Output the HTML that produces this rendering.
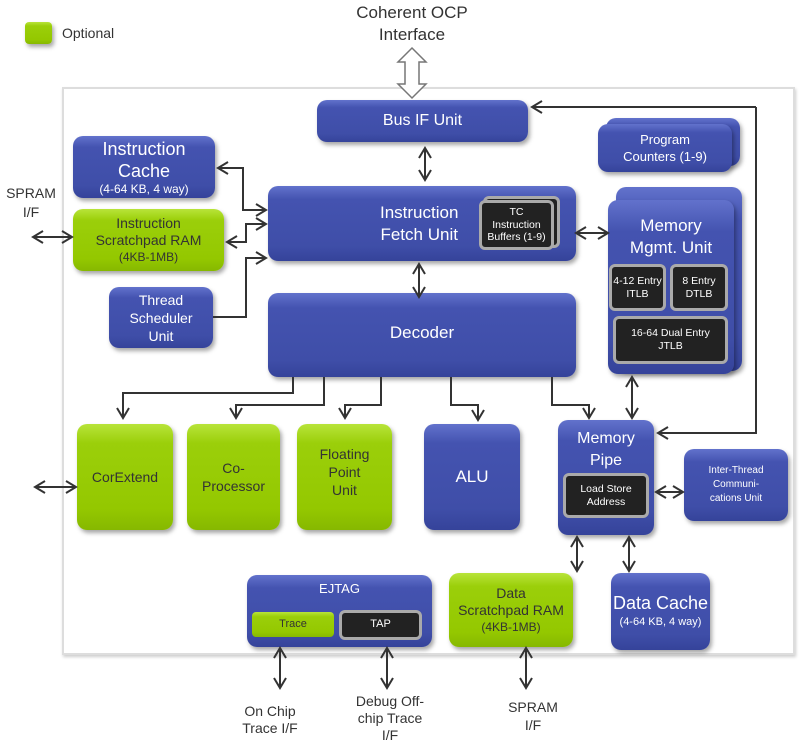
<!DOCTYPE html>
<html><head><meta charset="utf-8"><style>
body{margin:0;width:800px;height:736px;background:#fff;position:relative;overflow:hidden;font-family:"Liberation Sans",sans-serif}
.b{position:absolute;box-sizing:border-box;border-radius:10px;background:linear-gradient(#6272cc 0%,#4453b0 18%,#3f4ea8 80%,#35439a 100%);color:#fff;text-align:center;display:flex;flex-direction:column;justify-content:center;align-items:center;box-shadow:2px 3px 4px rgba(0,0,0,.35);line-height:1.15}
.g{background:linear-gradient(#b8e43a 0%,#9bcf0a 18%,#94c800 80%,#86b800 100%);color:#333}
.k{position:absolute;box-sizing:border-box;border-radius:6px;background:#222;border:3px solid #aaa;color:#fff;text-align:center;display:flex;flex-direction:column;justify-content:center;align-items:center;line-height:1.2}
.t{position:absolute;color:#333;text-align:center;line-height:1.2}
</style></head><body>
<div style="position:absolute;left:62px;top:87px;width:733px;height:568px;border:2px solid #ddd;box-sizing:border-box;box-shadow:1px 2px 3px rgba(0,0,0,.2)"></div>
<div class="b g" style="left:25px;top:22px;width:27px;height:22px;border-radius:4px"></div>
<div class="t" style="left:62px;top:25px;font-size:14px">Optional</div>
<div class="t" style="left:340px;top:2px;width:144px;font-size:17px;line-height:22px">Coherent OCP<br>Interface</div>
<div class="t" style="left:0px;top:184px;width:62px;font-size:14px;line-height:19px">SPRAM<br>I/F</div>
<div class="t" style="left:225px;top:703px;width:90px;font-size:14px;line-height:17px">On Chip<br>Trace I/F</div>
<div class="t" style="left:345px;top:693px;width:90px;font-size:14px;line-height:17px">Debug Off-<br>chip Trace<br>I/F</div>
<div class="t" style="left:490px;top:698px;width:86px;font-size:14px;line-height:18px">SPRAM<br>I/F</div>

<div class="b" style="left:317px;top:100px;width:211px;height:42px;font-size:16px">Bus IF Unit</div>
<div class="b" style="left:73px;top:136px;width:142px;height:62px;font-size:18px;line-height:22px">Instruction<br>Cache<span style="font-size:12px;line-height:15px">(4-64 KB, 4 way)</span></div>
<div class="b g" style="left:73px;top:209px;width:151px;height:62px;font-size:14px;line-height:17px">Instruction<br>Scratchpad RAM<br><span style="font-size:12px">(4KB-1MB)</span></div>
<div class="b" style="left:109px;top:287px;width:104px;height:61px;font-size:14px;line-height:18px">Thread<br>Scheduler<br>Unit</div>
<div class="b" style="left:268px;top:186px;width:308px;height:75px;font-size:17px;line-height:22px;align-items:flex-start;padding-left:112px;text-align:center">Instruction<br>Fetch Unit</div>
<div class="k" style="left:483px;top:196px;width:77px;height:52px"></div>
<div class="k" style="left:479px;top:200px;width:75px;height:50px;font-size:10.5px">TC<br>Instruction<br>Buffers (1-9)</div>
<div class="b" style="left:606px;top:118px;width:134px;height:48px"></div>
<div class="b" style="left:598px;top:124px;width:134px;height:48px;font-size:13px;line-height:17px">Program<br>Counters (1-9)</div>
<div class="b" style="left:616px;top:187px;width:126px;height:184px"></div>
<div class="b" style="left:608px;top:200px;width:126px;height:174px;justify-content:flex-start;padding-top:15px;font-size:17px;line-height:22px">Memory<br>Mgmt. Unit</div>
<div class="k" style="left:609px;top:264px;width:57px;height:47px;font-size:10.5px">4-12 Entry<br>ITLB</div>
<div class="k" style="left:670px;top:264px;width:58px;height:47px;font-size:10.5px">8 Entry<br>DTLB</div>
<div class="k" style="left:613px;top:316px;width:115px;height:48px;font-size:10.5px">16-64 Dual Entry<br>JTLB</div>
<div class="b" style="left:268px;top:293px;width:308px;height:84px;font-size:17px;justify-content:flex-start;padding-top:30px">Decoder</div>
<div class="b g" style="left:77px;top:424px;width:96px;height:106px;font-size:14px">CorExtend</div>
<div class="b g" style="left:187px;top:424px;width:93px;height:106px;font-size:14px;line-height:18px">Co-<br>Processor</div>
<div class="b g" style="left:297px;top:424px;width:95px;height:106px;font-size:14px;line-height:18px;padding-bottom:10px">Floating<br>Point<br>Unit</div>
<div class="b" style="left:424px;top:424px;width:96px;height:106px;font-size:17px">ALU</div>
<div class="b" style="left:558px;top:420px;width:96px;height:115px;justify-content:flex-start;padding-top:8px;font-size:16px;line-height:22px">Memory<br>Pipe</div>
<div class="k" style="left:563px;top:473px;width:86px;height:45px;font-size:10.5px">Load Store<br>Address</div>
<div class="b" style="left:684px;top:449px;width:104px;height:72px;font-size:10px;line-height:14px">Inter-Thread<br>Communi-<br>cations Unit</div>
<div class="b" style="left:247px;top:575px;width:185px;height:72px;justify-content:flex-start;padding-top:7px;font-size:13px">EJTAG</div>
<div class="b g" style="left:252px;top:612px;width:82px;height:25px;border-radius:4px;font-size:11px;box-shadow:none">Trace</div>
<div class="k" style="left:339px;top:610px;width:83px;height:30px;font-size:11px">TAP</div>
<div class="b g" style="left:449px;top:573px;width:124px;height:74px;font-size:14px;line-height:17px">Data<br>Scratchpad RAM<br><span style="font-size:12px">(4KB-1MB)</span></div>
<div class="b" style="left:611px;top:573px;width:99px;height:77px;font-size:18px;line-height:21px">Data Cache<span style="font-size:11px;line-height:16px">(4-64 KB, 4 way)</span></div>

<svg width="800" height="736" style="position:absolute;left:0;top:0" fill="none" stroke="#333" stroke-width="2">
<defs><marker id="a" markerWidth="14" markerHeight="14" refX="11" refY="7" orient="auto-start-reverse" markerUnits="userSpaceOnUse"><path d="M1 1 L11 7 L1 13" fill="none" stroke="#333" stroke-width="2"/></marker></defs>
<path d="M412 48 L426 62 L419 62 L419 84 L426 84 L412 98 L398 84 L405 84 L405 62 L398 62 Z" fill="#fff" stroke="#777" stroke-width="1.5"/>
<g marker-start="url(#a)" marker-end="url(#a)">
<path d="M425 148 V180"/><path d="M419 264 V297"/>
<path d="M266 210 H243 V168 H218"/><path d="M266 224 H246 V242 H227"/>
<path d="M33 237 H72"/><path d="M576 233 H608"/><path d="M632 377 V418"/>
<path d="M656 492 H683"/><path d="M35 487 H76"/>
<path d="M577 537 V571"/><path d="M629 537 V571"/>
<path d="M280 648 V688"/><path d="M387 648 V688"/><path d="M526 648 V688"/>
</g>
<g marker-end="url(#a)">
<path d="M213 317 H246 V258 H266"/>
<path d="M756 107 H532"/><path d="M756 107 V433 H658"/>
<path d="M293 377 V393 H123 V418"/><path d="M324 377 V405 H236 V418"/>
<path d="M381 377 V405 H345 V418"/><path d="M451 377 V405 H478 V420"/>
<path d="M552 377 V405 H589 V418"/>
</g>
</svg>
</body></html>
